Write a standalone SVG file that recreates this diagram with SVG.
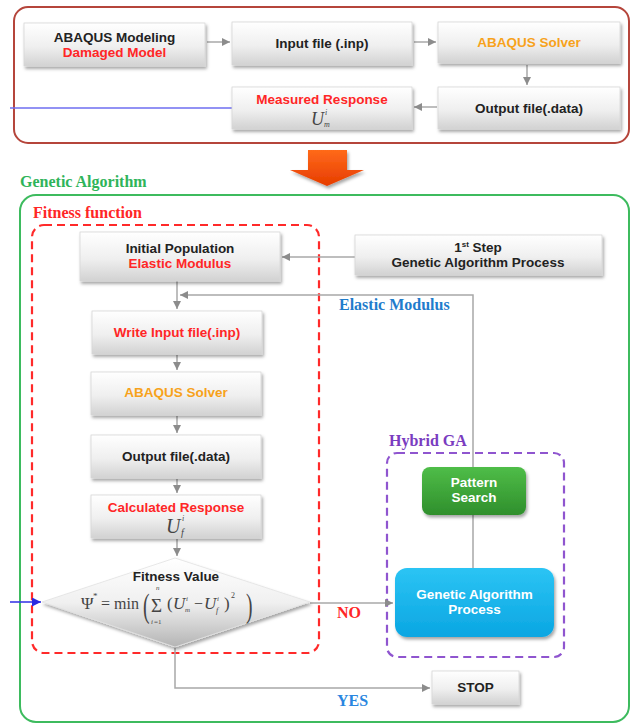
<svg xmlns="http://www.w3.org/2000/svg" width="632" height="724" viewBox="0 0 632 724">
<style>
.box{fill:url(#gBox);stroke:#d6d6d6;stroke-width:0.8;filter:url(#sh)}
.t{font-family:"Liberation Sans",Arial,sans-serif;font-weight:bold;font-size:13.5px;text-anchor:middle;fill:#222}
.red{fill:#ff2626}
.org{fill:#f7a21b}
.wht{fill:#ffffff}
.lbl{font-family:"Liberation Serif","Times New Roman",serif;font-weight:bold;font-size:16px}
.m{font-family:"Liberation Serif","Times New Roman",serif;fill:#444}
.it{font-style:italic}
.con{fill:none;stroke:#a8a8a8;stroke-width:1.5}
</style>
<defs>
<linearGradient id="gBox" x1="0" y1="0" x2="0" y2="1">
<stop offset="0" stop-color="#ffffff"/><stop offset="0.55" stop-color="#efefef"/><stop offset="1" stop-color="#d2d2d2"/>
</linearGradient>
<linearGradient id="gDia" x1="0" y1="0" x2="0" y2="1">
<stop offset="0" stop-color="#ffffff"/><stop offset="0.5" stop-color="#f0f0f0"/><stop offset="1" stop-color="#b4b4b4"/>
</linearGradient>
<linearGradient id="gGreen" x1="0" y1="0" x2="0" y2="1">
<stop offset="0" stop-color="#4fbd48"/><stop offset="1" stop-color="#2f8f2c"/>
</linearGradient>
<linearGradient id="gCyan" x1="0" y1="0" x2="0" y2="1">
<stop offset="0" stop-color="#2cc4f4"/><stop offset="1" stop-color="#0aa6e2"/>
</linearGradient>
<linearGradient id="gOrange" x1="0" y1="0" x2="0" y2="1">
<stop offset="0" stop-color="#ff6a1a"/><stop offset="1" stop-color="#e63c00"/>
</linearGradient>
<filter id="sh" x="-10%" y="-10%" width="130%" height="140%">
<feDropShadow dx="1.5" dy="2.5" stdDeviation="1.8" flood-color="#000" flood-opacity="0.35"/>
</filter>
<marker id="ah" markerUnits="userSpaceOnUse" markerWidth="8" markerHeight="8" refX="8" refY="4" orient="auto">
<path d="M0,0 L8,4 L0,8 z" fill="#8c8c8c"/>
</marker>
<marker id="ahb" markerUnits="userSpaceOnUse" markerWidth="9" markerHeight="9" refX="9" refY="4.5" orient="auto">
<path d="M0,0 L9,4.5 L0,9 z" fill="#2a2ae0"/>
</marker>
</defs>
<rect width="632" height="724" fill="#ffffff"/>

<!-- containers -->
<g id="modelContainer">
<rect x="14" y="7" width="615" height="136" rx="14" fill="none" stroke="#b5453b" stroke-width="2"/>
</g>
<g id="bigArrow">
<polygon points="308,150 347,150 347,170 364,170 327,186 290,170 308,170" fill="url(#gOrange)" filter="url(#sh)"/>
</g>
<g id="gaContainer">
<text x="20" y="187" class="lbl" fill="#2fb45a">Genetic Algorithm</text>
<rect x="20" y="195" width="609" height="527" rx="16" fill="none" stroke="#3dbb5e" stroke-width="2"/>
</g>
<g id="fitnessContainer">
<text x="33" y="218" class="lbl" fill="#ff2626">Fitness function</text>
<rect x="32" y="225" width="287" height="428" rx="12" fill="none" stroke="#ff2a2a" stroke-width="2.2" stroke-dasharray="8,5"/>
</g>
<g id="hybridContainer">
<text x="389" y="446" class="lbl" fill="#7a3cc0">Hybrid GA</text>
<rect x="387" y="453" width="177" height="204" rx="10" fill="none" stroke="#8f55cf" stroke-width="2.2" stroke-dasharray="8,5"/>
</g>

<!-- connectors -->
<g id="connectors">
<path class="con" d="M207 42 H230" marker-end="url(#ah)"/>
<path class="con" d="M414 42 H436" marker-end="url(#ah)"/>
<path class="con" d="M527 65 V85" marker-end="url(#ah)"/>
<path class="con" d="M437 107 H414" marker-end="url(#ah)"/>
<path d="M10 108 H232" fill="none" stroke="#6e6ef0" stroke-width="1.6"/>
<path class="con" d="M355 257 H282" marker-end="url(#ah)"/>
<path class="con" d="M177 281 V309" marker-end="url(#ah)"/>
<path class="con" d="M473 568 V295 H180" marker-end="url(#ah)"/>
<path class="con" d="M177 355 V370" marker-end="url(#ah)"/>
<path class="con" d="M177 416 V433" marker-end="url(#ah)"/>
<path class="con" d="M177 479 V493" marker-end="url(#ah)"/>
<path class="con" d="M177 539 V556" marker-end="url(#ah)"/>
<path class="con" d="M310 603 H393" marker-end="url(#ah)"/>
<path class="con" d="M175 647 V688 H430" marker-end="url(#ah)"/>
<path d="M10 602 H41" fill="none" stroke="#3a3ae6" stroke-width="1.6" marker-end="url(#ahb)"/>
<text x="339" y="310" class="lbl" fill="#1f7ccc">Elastic Modulus</text>
<text x="337" y="618" class="lbl" fill="#ff2626">NO</text>
<text x="337" y="706" class="lbl" fill="#2a86e0">YES</text>
</g>

<!-- nodes -->
<g id="abaqusModeling">
<rect class="box" x="24" y="23" width="181" height="43"/>
<text class="t" x="114.5" y="42">ABAQUS Modeling</text>
<text class="t red" x="114.5" y="57">Damaged Model</text>
</g>
<g id="inputFile">
<rect class="box" x="232" y="22" width="180" height="43"/>
<text class="t" x="322" y="48">Input file (.inp)</text>
</g>
<g id="abaqusSolver1">
<rect class="box" x="438" y="22" width="182" height="41"/>
<text class="t org" x="529" y="47">ABAQUS Solver</text>
</g>
<g id="outputFile1">
<rect class="box" x="438" y="87" width="182" height="42"/>
<text class="t" x="529" y="113">Output file(.data)</text>
</g>
<g id="measuredResponse">
<rect class="box" x="232" y="87" width="180" height="42"/>
<text class="t red" x="322" y="104">Measured Response</text>
<text class="m it" x="311" y="125" font-size="18">U</text>
<text class="m it" x="325" y="115" font-size="8">i</text>
<text class="m it" x="324" y="127" font-size="8">m</text>
</g>
<g id="initialPopulation">
<rect class="box" x="80" y="232" width="200" height="49"/>
<text class="t" x="180" y="253">Initial Population</text>
<text class="t red" x="180" y="268">Elastic Modulus</text>
</g>
<g id="firstStep">
<rect class="box" x="355" y="235" width="247" height="40"/>
<text class="t" x="478" y="252">1<tspan font-size="8" dy="-5">st</tspan><tspan dy="5"> Step</tspan></text>
<text class="t" x="478" y="267">Genetic Algorithm Process</text>
</g>
<g id="writeInput">
<rect class="box" x="92" y="311" width="170" height="43"/>
<text class="t red" x="177" y="337">Write Input file(.inp)</text>
</g>
<g id="abaqusSolver2">
<rect class="box" x="91" y="372" width="170" height="43"/>
<text class="t org" x="176" y="397">ABAQUS Solver</text>
</g>
<g id="outputFile2">
<rect class="box" x="91" y="435" width="170" height="43"/>
<text class="t" x="176" y="461">Output file(.data)</text>
</g>
<g id="calculatedResponse">
<rect class="box" x="91" y="495" width="170" height="43"/>
<text class="t red" x="176" y="512">Calculated Response</text>
<text class="m it" x="166" y="533" font-size="20">U</text>
<text class="m it" x="182" y="521" font-size="8">i</text>
<text class="m it" x="181" y="536" font-size="10">f</text>
</g>
<g id="fitnessValue">
<polygon points="42,602 175,558 310,602 175,647" fill="url(#gDia)" stroke="#e2e2e2" stroke-width="0.8" filter="url(#sh)"/>
<text class="t" x="176" y="581" font-size="13">Fitness Value</text>
<text class="m" x="81" y="609" font-size="17">Ψ</text>
<text class="m" x="93" y="599" font-size="9">*</text>
<text class="m" x="101" y="609" font-size="16">= min</text>
<text class="m" x="143" y="617" font-size="28" transform="translate(143 617) scale(0.7 1.2) translate(-143 -617)">(</text>
<text class="m" x="151" y="612" font-size="19">Σ</text>
<text class="m it" x="156" y="590" font-size="7">n</text>
<text class="m it" x="151" y="624" font-size="7">i</text>
<text class="m" x="154" y="624" font-size="7">=1</text>
<text class="m" x="167" y="609" font-size="17">(</text>
<text class="m it" x="173" y="609" font-size="17">U</text>
<text class="m it" x="186" y="601" font-size="7">i</text>
<text class="m it" x="185" y="612" font-size="7">m</text>
<text class="m" x="194" y="609" font-size="16">−</text>
<text class="m it" x="204" y="609" font-size="17">U</text>
<text class="m it" x="217" y="601" font-size="7">i</text>
<text class="m it" x="216" y="613" font-size="8">f</text>
<text class="m" x="224" y="609" font-size="17">)</text>
<text class="m" x="231" y="598" font-size="8">2</text>
<text class="m" x="246" y="617" font-size="28" transform="translate(246 617) scale(0.7 1.2) translate(-246 -617)">)</text>
</g>
<g id="patternSearch">
<rect x="422" y="467" width="104" height="48" rx="8" fill="url(#gGreen)" filter="url(#sh)"/>
<text class="t wht" x="474" y="487">Pattern</text>
<text class="t wht" x="474" y="502">Search</text>
</g>
<g id="gaProcess">
<rect x="395" y="568" width="159" height="69" rx="12" fill="url(#gCyan)" filter="url(#sh)"/>
<text class="t wht" x="474.5" y="599">Genetic Algorithm</text>
<text class="t wht" x="474.5" y="614">Process</text>
</g>
<g id="stop">
<rect class="box" x="432" y="671" width="87" height="33"/>
<text class="t" x="475.5" y="692">STOP</text>
</g>
</svg>
